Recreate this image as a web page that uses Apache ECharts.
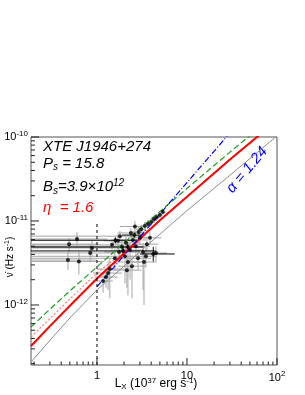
<!DOCTYPE html>
<html><head><meta charset="utf-8">
<script src="https://cdn.jsdelivr.net/npm/echarts@6/dist/echarts.min.js"></script>
<style>html,body{margin:0;padding:0;background:#fff}#c{width:305px;height:395px}</style>
</head><body><div id="c"></div>
<script>
// ---- axis ranges & ticks ----
const xRange = [0.185, 100];
const yRange = [1.93e-13, 1e-10];
const xMajorTicks = [1, 10, 100];
const xMinorTicks = [0.2,0.3,0.4,0.5,0.6,0.7,0.8,0.9,2,3,4,5,6,7,8,9,20,30,40,50,60,70,80,90];
const yMajorTicks = [1e-12, 1e-11, 1e-10];
const yMinorTicks = [2e-13,3e-13,4e-13,5e-13,6e-13,7e-13,8e-13,9e-13,2e-12,3e-12,4e-12,5e-12,6e-12,7e-12,8e-12,9e-12,2e-11,3e-11,4e-11,5e-11,6e-11,7e-11,8e-11,9e-11];

// ---- data points: L, nudot, Llo, Lhi, nulo, nuhi (gray error bars) ----
const ptsGray = [
 [5.4,1.28e-11,5.0,5.8,1.18e-11,1.38e-11],
 [5.0,1.18e-11,4.6,5.4,1.08e-11,1.28e-11],
 [4.6,1.11e-11,4.2,5.0,1.0e-11,1.22e-11],
 [4.3,1.05e-11,3.9,4.7,9.5e-12,1.15e-11],
 [4.0,9.7e-12,3.6,4.4,8.7e-12,1.07e-11],
 [3.7,9.2e-12,3.3,4.1,8.2e-12,1.02e-11],
 [3.4,8.7e-12,3.0,3.8,7.6e-12,9.8e-12],
 [3.1,8.0e-12,2.7,3.5,7.0e-12,9.0e-12],
 [2.64,8.6e-12,1.8,3.6,7.0e-12,1.0e-11],
 [2.9,7.4e-12,2.4,3.4,6.2e-12,8.6e-12],
 [1.47,5.2e-12,0.1,2.4,4.4e-12,6.0e-12],
 [1.71,5.8e-12,1.2,2.5,4.6e-12,7.0e-12],
 [1.90,4.9e-12,0.1,3.2,4.0e-12,5.8e-12],
 [2.10,5.5e-12,1.5,3.0,4.5e-12,6.5e-12],
 [2.33,4.5e-12,1.6,3.3,2.0e-12,5.5e-12],
 [2.51,5.95e-12,1.8,3.5,5.0e-12,7.0e-12],
 [2.71,5.0e-12,0.1,3.9,3.8e-12,6.2e-12],
 [3.0,6.3e-12,2.2,4.0,5.2e-12,7.4e-12],
 [3.25,4.27e-12,2.4,4.3,1.5e-12,5.5e-12],
 [3.59,5.3e-12,2.6,4.8,4.3e-12,6.3e-12],
 [3.88,6.3e-12,2.9,5.2,5.2e-12,7.4e-12],
 [3.5,3.8e-12,2.6,4.6,2.8e-12,4.8e-12],
 [2.05,3.8e-12,0.1,3.0,1.8e-12,4.8e-12],
 [1.76,4.27e-12,1.2,2.6,3.3e-12,5.2e-12],
 [1.58,3.6e-12,0.1,2.3,2.6e-12,4.6e-12],
 [2.21,3.25e-12,1.5,3.2,1.3e-12,4.2e-12],
 [1.33,2.4e-12,0.9,1.9,1.5e-12,3.3e-12],
 [1.39,2.68e-12,1.0,2.0,1.2e-12,3.6e-12],
 [1.17,1.93e-12,0.9,1.5,1.4e-12,2.5e-12],
 [1.26,2.15e-12,0.95,1.7,1.6e-12,2.7e-12],
 [2.15,2.6e-12,1.5,3.1,1.6e-12,3.6e-12],
 [2.45,2.9e-12,1.7,3.5,1.2e-12,3.9e-12],
 [2.86,3.6e-12,2.0,4.0,2.6e-12,4.6e-12],
 [3.33,3.25e-12,2.4,4.6,1.0e-12,4.3e-12],
 [4.52,4.16e-12,3.3,6.0,3.3e-12,5.0e-12],
 [1.80,6.6e-12,0.1,3.0,5.6e-12,7.6e-12],
 [2.38,7.2e-12,1.7,3.3,6.2e-12,8.2e-12],
 [0.49,5.3e-12,0.1,1.05,4.3e-12,6.3e-12],
 [0.60,6.1e-12,0.1,1.3,4.8e-12,7.4e-12],
 [0.476,3.43e-12,0.1,1.0,2.6e-12,4.3e-12],
 [0.63,3.3e-12,0.1,1.2,2.3e-12,4.3e-12],
 [0.84,4.16e-12,0.1,1.6,3.2e-12,5.2e-12],
 [0.88,4.77e-12,0.1,1.7,3.7e-12,5.8e-12]
];
// points whose error bars are black
const ptsBlack = [
 [4.22,4.05e-12,3.0,7.3,3.3e-12,4.9e-12],
 [1.60,5.9e-12,0.1,2.8,5.4e-12,6.4e-12],
 [2.2,4.9e-12,0.1,3.3,4.4e-12,5.4e-12],
 [1.95,4.4e-12,0.1,4.5,4.0e-12,4.8e-12],
 [2.6,6.8e-12,1.9,3.4,6.3e-12,7.3e-12]
];

// ---- model curves (L, nudot) ----
const curveGray  = [[0.185,2.09e-13],[0.3,3.8e-13],[0.5,7.0e-13],[1,1.51e-12],[2,2.9e-12],[3.88,5.5e-12],[10,1.33e-11],[30,3.5e-11],[100,1.03e-10]];
const curveRed   = [[0.185,3.25e-13],[0.3,5.6e-13],[0.5,9.8e-13],[1,2.07e-12],[2,4.1e-12],[5,1.02e-11],[10,1.95e-11],[30,5.4e-11],[70,1.15e-10]];
const curveRedDot= [[0.185,4.16e-13],[0.3,6.9e-13],[0.5,1.18e-12],[1,2.4e-12],[2,4.3e-12],[5,1.02e-11],[10,1.95e-11],[30,5.4e-11],[70,1.15e-10]];
const curveGreen = [[0.185,5.47e-13],[0.3,8.9e-13],[0.5,1.47e-12],[1,2.84e-12],[2,5.5e-12],[3.88,1.03e-11],[10,2.44e-11],[30,6.6e-11],[60,1.22e-10]];
const curveBlue  = [[1.0,1.65e-12],[30,1.12e-10]];
const refLineL1  = [[1,1.93e-13],[1,1e-11]];

const chart = echarts.init(document.getElementById('c'), null, {renderer:'canvas'});
const FONT = 'Liberation Sans, Arial, Helvetica, sans-serif';

function supNum(v){
  const e = Math.round(Math.log10(v));
  if (e === 0) return '1';
  if (e === 1) return '10';
  return '10{s|' + (e < 0 ? '-' + (-e) : e) + '}';
}

function errSeries(data, color){
  return {
    type:'custom', xAxisIndex:0, yAxisIndex:0, clip:true, z:3,
    data: data,
    renderItem: function(params, api){
      const x=api.value(0), y=api.value(1);
      const p=api.coord([x,y]);
      const pl=api.coord([api.value(2),y]), ph=api.coord([api.value(3),y]);
      const pb=api.coord([x,api.value(4)]), pt=api.coord([x,api.value(5)]);
      const st={stroke:color, lineWidth:1};
      return {type:'group', children:[
        {type:'line', shape:{x1:pl[0],y1:p[1],x2:ph[0],y2:p[1]}, style:st},
        {type:'line', shape:{x1:p[0],y1:pt[1],x2:p[0],y2:pb[1]}, style:st}
      ]};
    }
  };
}
// tick marks drawn through the axes' own scales
function tickSeries(values, dim, len){
  return {
    type:'custom', xAxisIndex:0, yAxisIndex:0, clip:false, z:6, silent:true,
    data: values.map(v=>[v]),
    renderItem: function(params, api){
      const v = api.value(0);
      let s;
      if (dim === 'x') {
        const p = api.coord([v, yRange[0]]);
        s = {x1:p[0], y1:p[1], x2:p[0], y2:p[1]-len};
      } else {
        const p = api.coord([xRange[0], v]);
        s = {x1:p[0], y1:p[1], x2:p[0]+len, y2:p[1]};
      }
      return {type:'line', shape:s, style:{stroke:'#222', lineWidth:1}};
    }
  };
}
function curve(data, color, width, type){
  return {type:'line', xAxisIndex:0, yAxisIndex:0, data:data, showSymbol:false, smooth:false, clip:true, z:4,
    lineStyle:{color:color, width:width, type:type}, silent:true};
}

const option = {
  animation:false,
  grid:{left:31, right:28, top:137, bottom:30, show:true, borderColor:'#555', borderWidth:1, backgroundColor:'transparent'},
  xAxis:[
    {type:'log', min:xRange[0], max:xRange[1], logBase:10,
     axisLine:{show:false}, splitLine:{show:false}, axisTick:{show:false},
     axisLabel:{show:true, margin:5, color:'#000', fontFamily:FONT, fontSize:11, customValues:xMajorTicks,
       formatter:supNum, rich:{s:{fontSize:8, fontFamily:FONT, color:'#000', padding:[0,0,7,0]}}}}
  ],
  yAxis:[
    {type:'log', min:yRange[0], max:yRange[1], logBase:10,
     axisLine:{show:false}, splitLine:{show:false}, axisTick:{show:false},
     axisLabel:{show:true, margin:3, color:'#000', fontFamily:FONT, fontSize:11, customValues:yMajorTicks,
       formatter:supNum, rich:{s:{fontSize:8, fontFamily:FONT, color:'#000', padding:[0,0,7,0]}}}}
  ],
  series:[
    errSeries(ptsGray, '#a6a6a6'),
    errSeries(ptsBlack, '#000'),
    curve(curveGray, '#8c8c8c', 1, 'solid'),
    curve(curveGreen, '#1a9a1a', 1.2, [6,3]),
    curve(curveRedDot, '#ff7a7a', 1.2, [2,2]),
    curve(curveRed, '#ff0000', 2, 'solid'),
    curve(curveBlue, '#0000ff', 1.2, [6,2,1,2]),
    curve(refLineL1, '#000', 1, [3,3]),
    {type:'scatter', xAxisIndex:0, yAxisIndex:0, data:ptsGray.map(p=>[p[0],p[1]]), symbol:'circle', symbolSize:4, itemStyle:{color:'#000'}, z:5},
    {type:'scatter', xAxisIndex:0, yAxisIndex:0, data:ptsBlack.map(p=>[p[0],p[1]]), symbol:'circle', symbolSize:4, itemStyle:{color:'#000'}, z:5},
    tickSeries(xMajorTicks, 'x', 7),
    tickSeries(xMinorTicks, 'x', 3.5),
    tickSeries(yMajorTicks, 'y', 8),
    tickSeries(yMinorTicks, 'y', 4)
  ],
  graphic:[
    {type:'text', left:43, top:139, style:{text:'XTE J1946+274', font:'italic 15px '+FONT, fill:'#000'}},
    {type:'text', left:43, top:156, style:{text:'P{b|s} = 15.8', font:'italic 15px '+FONT, fill:'#000',
      rich:{b:{font:'italic 10px '+FONT, padding:[8,0,0,0]}}}},
    {type:'text', left:43, top:178, style:{text:'B{b|s}=3.9×10{t|12}', font:'italic 15px '+FONT, fill:'#000',
      rich:{b:{font:'italic 10px '+FONT, padding:[8,0,0,0]}, t:{font:'italic 10px '+FONT, padding:[0,0,8,0]}}}},
    {type:'text', left:43, top:200, style:{text:'η  = 1.6', font:'italic 15px '+FONT, fill:'#ff0000'}},
    {type:'text', x:247, y:170, rotation:50*Math.PI/180, style:{text:'α = 1.24', font:'italic 15px '+FONT, fill:'#0000ff', align:'center', verticalAlign:'middle'}},
    {type:'text', x:10, y:257, rotation:Math.PI/2, style:{text:'ν̇ (Hz s{t|-1})', font:'10px '+FONT, fill:'#000', align:'center', verticalAlign:'middle',
      rich:{t:{font:'7px '+FONT, padding:[0,0,6,0]}}}},
    {type:'text', x:156, y:384, style:{text:'L{b|X} (10{t|37} erg s{t|-1})', font:'12px '+FONT, fill:'#000', align:'center', verticalAlign:'middle',
      rich:{b:{font:'8px '+FONT, padding:[6,0,0,0]}, t:{font:'8px '+FONT, padding:[0,0,7,0]}}}}
  ]
};
chart.setOption(option);
</script></body></html>
